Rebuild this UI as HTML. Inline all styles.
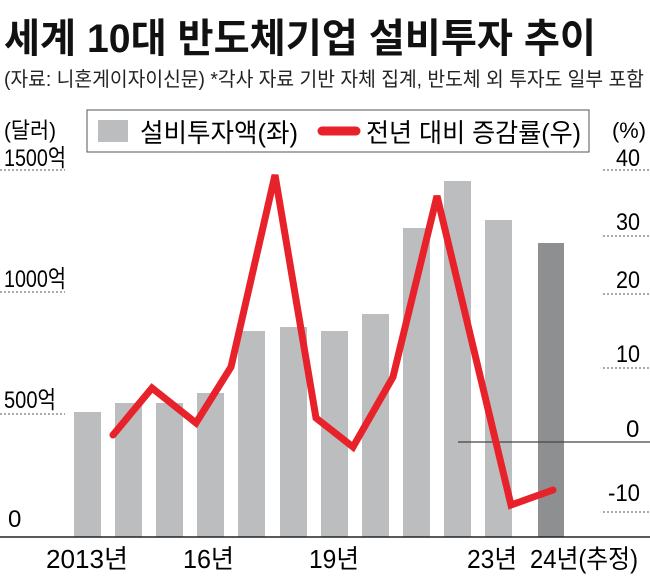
<!DOCTYPE html><html><head><meta charset="utf-8"><style>
body{margin:0;background:#fff;width:650px;height:579px;overflow:hidden;font-family:"Liberation Sans","Noto Sans CJK KR",sans-serif;color:#111}
</style></head><body>
<svg width="650" height="579" xmlns="http://www.w3.org/2000/svg" font-family="Liberation Sans, Noto Sans CJK KR, sans-serif">
<text x="4" y="52" font-size="40" font-weight="bold" fill="#111" textLength="592" lengthAdjust="spacingAndGlyphs">세계 10대 반도체기업 설비투자 추이</text>
<text x="4" y="86" font-size="20" fill="#222" textLength="640" lengthAdjust="spacingAndGlyphs">(자료: 니혼게이자이신문) *각사 자료 기반 자체 집계, 반도체 외 투자도 일부 포함</text>
<rect x="87" y="110" width="502" height="42" fill="#fff" stroke="#555" stroke-width="1"/>
<rect x="98" y="120" width="30" height="22" fill="#bcbdbf"/>
<text x="140" y="142" font-size="26" textLength="158" lengthAdjust="spacingAndGlyphs">설비투자액(좌)</text>
<line x1="322" y1="131" x2="356" y2="131" stroke="#e8222a" stroke-width="9" stroke-linecap="round"/>
<text x="366" y="142" font-size="26" textLength="215" lengthAdjust="spacingAndGlyphs">전년 대비 증감률(우)</text>
<text x="4" y="138" font-size="22" textLength="52" lengthAdjust="spacingAndGlyphs">(달러)</text>
<text x="612" y="138" font-size="22" textLength="34" lengthAdjust="spacingAndGlyphs">(%)</text>
<g font-size="24">
<text x="4" y="166" textLength="62" lengthAdjust="spacingAndGlyphs">1500억</text><text x="4" y="287" textLength="62" lengthAdjust="spacingAndGlyphs">1000억</text><text x="4" y="408" textLength="52" lengthAdjust="spacingAndGlyphs">500억</text><text x="8" y="527">0</text>
<text x="616" y="166" textLength="24" lengthAdjust="spacingAndGlyphs">40</text><text x="616" y="230" textLength="24" lengthAdjust="spacingAndGlyphs">30</text><text x="616" y="288" textLength="24" lengthAdjust="spacingAndGlyphs">20</text><text x="616" y="362" textLength="24" lengthAdjust="spacingAndGlyphs">10</text><text x="626" y="437">0</text><text x="608" y="501" textLength="32" lengthAdjust="spacingAndGlyphs">-10</text>
</g>
<g stroke="#555" stroke-dasharray="2,2" stroke-width="1">
<line x1="0" y1="170" x2="65" y2="170"/><line x1="0" y1="292" x2="65" y2="292"/><line x1="0" y1="414" x2="65" y2="414"/>
<line x1="603" y1="170" x2="650" y2="170"/><line x1="603" y1="236" x2="650" y2="236"/><line x1="603" y1="294" x2="650" y2="294"/><line x1="603" y1="368" x2="650" y2="368"/><line x1="603" y1="512" x2="650" y2="512"/>
</g>
<g fill="#bcbdbf">
<rect x="74" y="412" width="27" height="125"/><rect x="115" y="403" width="27" height="134"/><rect x="156" y="403" width="27" height="134"/><rect x="197" y="393" width="27" height="144"/><rect x="238" y="331" width="27" height="206"/><rect x="280" y="327" width="27" height="210"/><rect x="321" y="331" width="27" height="206"/><rect x="362" y="314" width="27" height="223"/><rect x="403" y="228" width="27" height="309"/><rect x="444" y="181" width="27" height="356"/><rect x="485" y="220" width="27" height="317"/>
</g>
<rect x="538" y="243" width="26" height="294" fill="#8e8f91"/>
<line x1="458" y1="442" x2="650" y2="442" stroke="#444" stroke-width="1.2"/>
<polyline points="113,435 152,388 196,423 231,367 275,175 316,418 353,447 393,377 437,196 511,505 553,490" fill="none" stroke="#e8222a" stroke-width="7" stroke-linejoin="miter" stroke-linecap="round"/>
<line x1="0" y1="537" x2="650" y2="537" stroke="#222" stroke-width="1.5"/>
<g font-size="26">
<text x="46" y="568" textLength="82" lengthAdjust="spacingAndGlyphs">2013년</text><text x="183" y="568" textLength="51" lengthAdjust="spacingAndGlyphs">16년</text><text x="309" y="568" textLength="50" lengthAdjust="spacingAndGlyphs">19년</text><text x="467" y="568" textLength="50" lengthAdjust="spacingAndGlyphs">23년</text><text x="530" y="568" textLength="108" lengthAdjust="spacingAndGlyphs">24년(추정)</text>
</g>
</svg>
</body></html>
